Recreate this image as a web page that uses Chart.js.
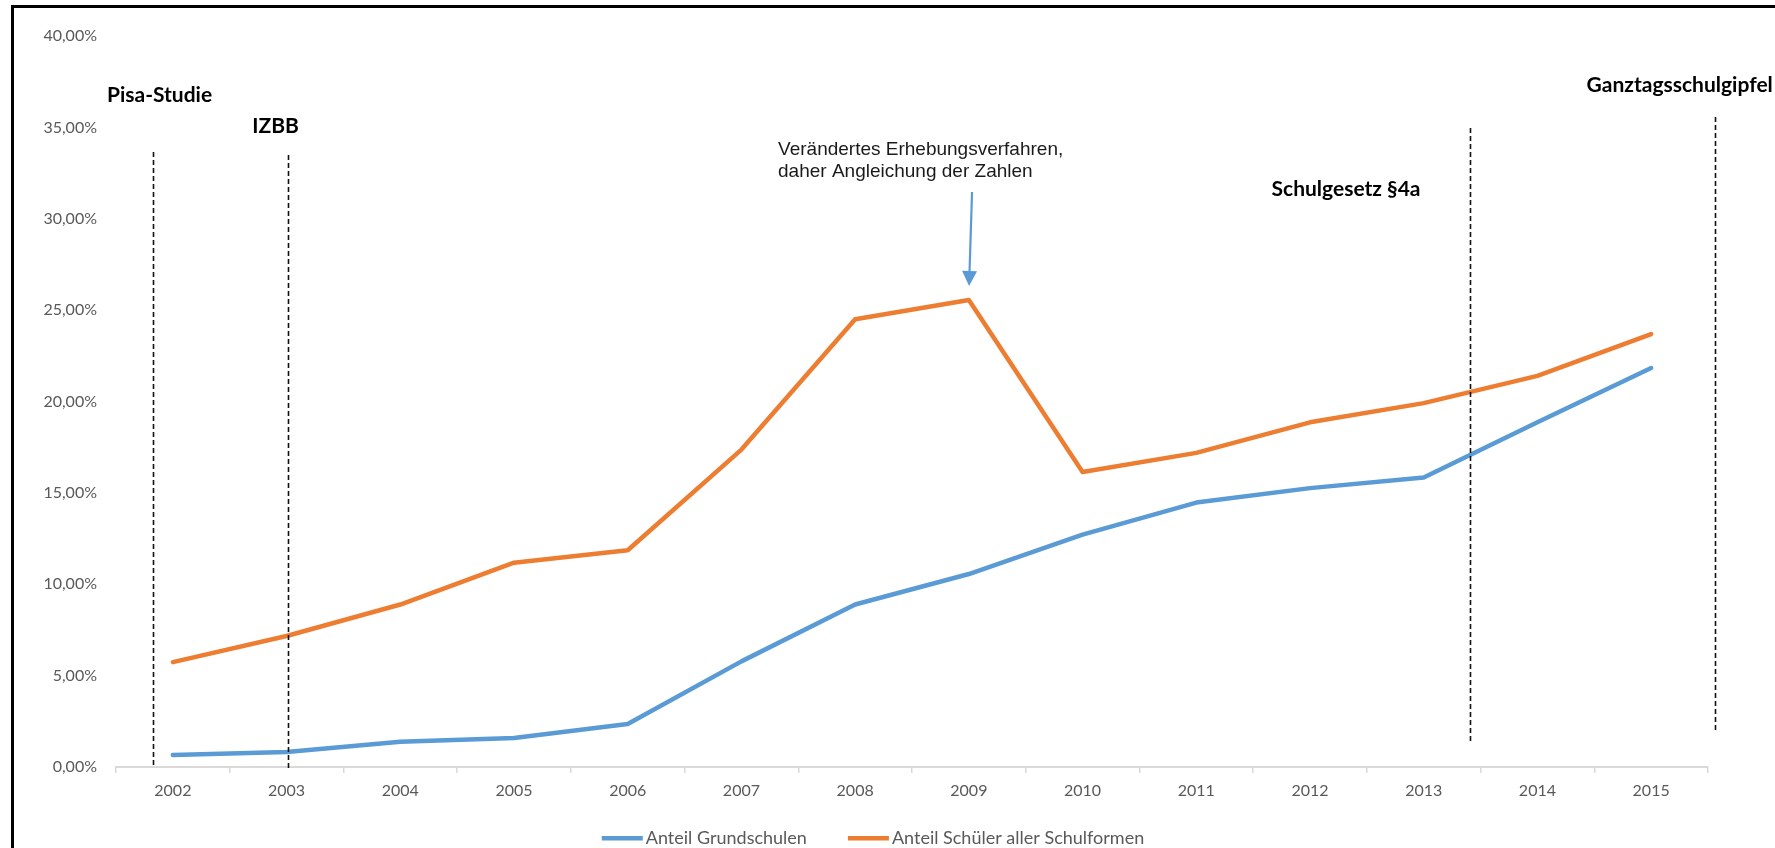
<!DOCTYPE html>
<html>
<head>
<meta charset="utf-8">
<script src="https://cdn.jsdelivr.net/npm/chart.js@4.4.0/dist/chart.umd.min.js"></script>
<style>
  html, body { margin: 0; padding: 0; background: #fff; overflow: hidden; }
  #wrap { position: relative; width: 1775px; height: 848px; }
  #frame { position: absolute; left: 11px; top: 5px; width: 1800px; height: 900px;
           border-left: 3px solid #000; border-top: 3px solid #000; }
  canvas { position: absolute; left: 0; top: 0; }
</style>
</head>
<body>
<div id="wrap">
  <div id="frame"></div>
  <canvas id="chart" width="1775" height="848"></canvas>
</div>
<script>
// Daten (Prozentwerte)
const jahre = ['2002', '2003', '2004', '2005', '2006', '2007', '2008', '2009', '2010', '2011', '2012', '2013', '2014', '2015'];
const anteilGrundschulen = [0.66, 0.82, 1.38, 1.59, 2.35, 5.78, 8.89, 10.56, 12.72, 14.47, 15.26, 15.84, 18.86, 21.83];
const anteilAlleSchulformen = [5.74, 7.17, 8.89, 11.18, 11.86, 17.37, 24.5, 25.55, 16.14, 17.19, 18.86, 19.91, 21.4, 23.69];
const yTickWerte = [0, 5, 10, 15, 20, 25, 30, 35, 40];
const yTickLabels = ['0,00%', '5,00%', '10,00%', '15,00%', '20,00%', '25,00%', '30,00%', '35,00%', '40,00%'];

// Ereignisse (x als Kategorie-Index, auch Zwischenwerte)
const ereignisse = ['Pisa-Studie', 'IZBB', 'Schulgesetz §4a', 'Ganztagsschulgipfel'];
const ereignisX = [-0.175, 1.013, 11.41, 13.565];

const hinweisText = ['Verändertes Erhebungsverfahren,', 'daher Angleichung der Zahlen'];

// Lage der Markierungen (Werte in Achseneinheiten)
const markerStil = [
  { top: 33.65, bottom: 0.11, textX: -0.117, textY: 36.77, align: 'center' },
  { top: 33.49, bottom: -0.16, textX: 0.903, textY: 35.08, align: 'center' },
  { top: 34.97, bottom: 1.37, textX: 10.317, textY: 31.63, align: 'center' },
  { top: 35.57, bottom: 1.86, textX: 14.07, textY: 37.32, align: 'right' }
];

const ereignisPlugin = {
  id: 'ereignisse',
  afterDatasetsDraw(chart) {
    const { ctx, scales: { x, y } } = chart;
    ctx.save();
    // gestrichelte Linien + Beschriftung
    ereignisse.forEach((name, i) => {
      const m = markerStil[i];
      const px = Math.round(x.getPixelForValue(ereignisX[i])) + 0.5;
      ctx.strokeStyle = '#111';
      ctx.lineWidth = 1.6;
      ctx.setLineDash([5, 3]);
      ctx.beginPath();
      ctx.moveTo(px, y.getPixelForValue(m.top));
      ctx.lineTo(px, y.getPixelForValue(m.bottom));
      ctx.stroke();
      ctx.setLineDash([]);
      ctx.fillStyle = '#000';
      ctx.font = 'bold 21px Lato';
      ctx.textAlign = m.align;
      ctx.textBaseline = 'middle';
      ctx.fillText(name, x.getPixelForValue(m.textX), y.getPixelForValue(m.textY));
    });

    // Hinweis mit Pfeil bei 2009
    ctx.font = '19px "Liberation Sans", Arial';
    ctx.fillStyle = '#1a1a1a';
    ctx.textAlign = 'left';
    ctx.textBaseline = 'middle';
    ctx.fillText(hinweisText[0], x.getPixelForValue(5.322), y.getPixelForValue(33.76));
    ctx.fillText(hinweisText[1], x.getPixelForValue(5.322), y.getPixelForValue(32.56));

    const x0 = x.getPixelForValue(7.028), y0 = y.getPixelForValue(31.46);
    const x1 = x.getPixelForValue(7.002), y1 = y.getPixelForValue(26.32);
    const ang = Math.atan2(y1 - y0, x1 - x0);
    const len = 15, half = 7.5;
    ctx.strokeStyle = '#5B9BD5';
    ctx.fillStyle = '#5B9BD5';
    ctx.lineWidth = 2.2;
    ctx.beginPath();
    ctx.moveTo(x0, y0);
    ctx.lineTo(x1 - Math.cos(ang) * len, y1 - Math.sin(ang) * len);
    ctx.stroke();
    ctx.beginPath();
    ctx.moveTo(x1, y1);
    ctx.lineTo(x1 - Math.cos(ang) * len - Math.sin(ang) * half, y1 - Math.sin(ang) * len + Math.cos(ang) * half);
    ctx.lineTo(x1 - Math.cos(ang) * len + Math.sin(ang) * half, y1 - Math.sin(ang) * len - Math.cos(ang) * half);
    ctx.closePath();
    ctx.fill();
    ctx.restore();
  }
};

// Legende unten, wie in Excel (Linie + Text)
const legendePlugin = {
  id: 'legende',
  afterDraw(chart) {
    const ctx = chart.ctx;
    ctx.save();
    ctx.font = '18px Lato';
    const boxW = 41, abstandText = 3, abstandItem = 41;
    const items = chart.data.datasets.map(ds => ({
      text: ds.label, color: ds.borderColor,
      w: boxW + abstandText + ctx.measureText(ds.label).width
    }));
    const gesamt = items.reduce((s, it) => s + it.w, 0) + abstandItem * (items.length - 1);
    let lx = 873 - gesamt / 2;
    const ly = 838;
    items.forEach(it => {
      ctx.fillStyle = it.color;
      ctx.fillRect(lx, ly - 2, boxW, 4.5);
      ctx.fillStyle = '#595959';
      ctx.textAlign = 'left';
      ctx.textBaseline = 'middle';
      ctx.fillText(it.text, lx + boxW + abstandText, ly);
      lx += it.w + abstandItem;
    });
    ctx.restore();
  }
};

function initChart() {
  const ctx = document.getElementById('chart').getContext('2d');
  new Chart(ctx, {
    type: 'line',
    data: {
      labels: jahre,
      datasets: [{
        label: 'Anteil Grundschulen',
        data: anteilGrundschulen,
        borderColor: '#5B9BD5',
        backgroundColor: '#5B9BD5',
        borderWidth: 4.5,
        pointRadius: 0,
        tension: 0,
        borderJoinStyle: 'round',
        borderCapStyle: 'round'
      }, {
        label: 'Anteil Schüler aller Schulformen',
        data: anteilAlleSchulformen,
        borderColor: '#ED7D31',
        backgroundColor: '#ED7D31',
        borderWidth: 4.5,
        pointRadius: 0,
        tension: 0,
        borderJoinStyle: 'round',
        borderCapStyle: 'round'
      }]
    },
    options: {
      responsive: false,
      animation: false,
      layout: { padding: { left: 0, right: 67, top: 36, bottom: 0 } },
      plugins: {
        legend: { display: false },
        tooltip: { enabled: false }
      },
      scales: {
        x: {
          offset: true,
          grid: { display: true, offset: true, drawOnChartArea: false, drawTicks: true, tickLength: 6, color: '#D9D9D9', lineWidth: 1.5 },
          border: { display: true, color: '#D9D9D9', width: 2 },
          ticks: { color: '#595959', font: { family: 'Lato', size: 16 }, padding: 8, maxRotation: 0, autoSkip: false },
          afterFit(scale) { scale.height = 81; }
        },
        y: {
          min: 0,
          max: 40,
          afterBuildTicks(scale) { scale.ticks = yTickWerte.map(v => ({ value: v })); },
          grid: { display: false, drawTicks: false },
          border: { display: false },
          ticks: {
            color: '#595959',
            font: { family: 'Lato', size: 16 },
            padding: 19,
            callback: (v, i) => yTickLabels[i]
          },
          afterFit(scale) { scale.width = 116; }
        }
      }
    },
    plugins: [ereignisPlugin, legendePlugin]
  });
}

Promise.all([
  document.fonts.load('16px Lato'),
  document.fonts.load('bold 21px Lato'),
  document.fonts.load('18px Lato'),
  document.fonts.load('19px "Liberation Sans"')
]).then(initChart, initChart);
</script>
</body>
</html>
